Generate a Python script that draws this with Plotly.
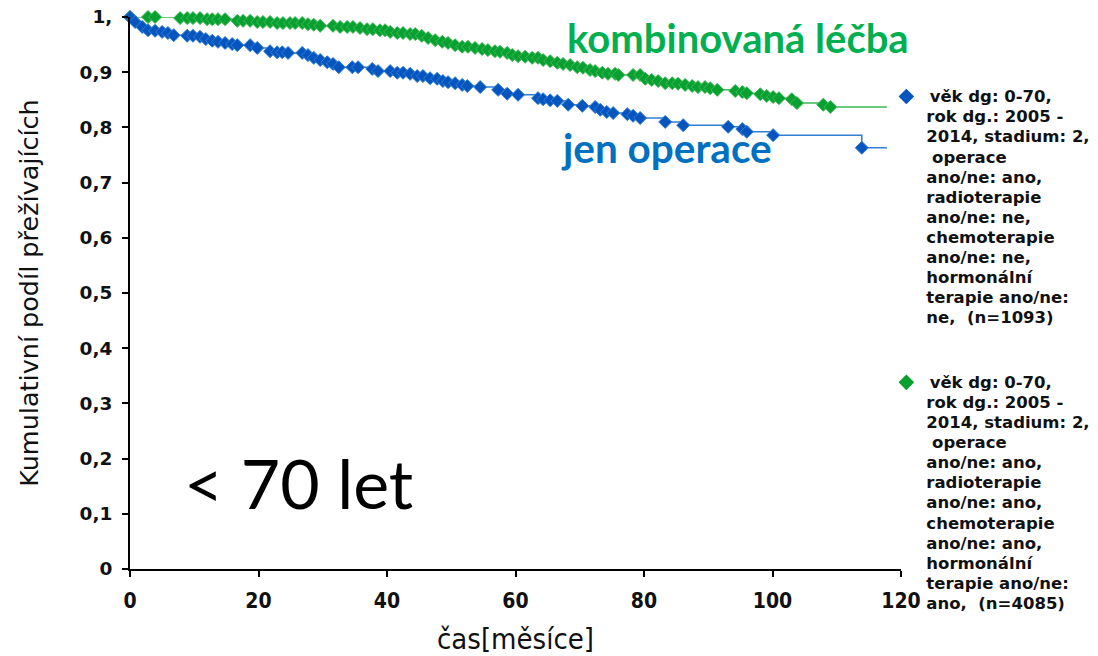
import plotly.graph_objects as go

# ---------------- data ----------------
# jen operace (surgery only), censor marks at survival level
op_time = [0, 0.8, 1.9, 2.8, 3.9, 5.0, 5.9, 6.8, 8.9, 9.8, 10.9, 11.8, 12.8, 13.7,
           14.8, 15.9, 16.7, 18.7, 19.8, 21.8, 22.9, 23.7, 24.6, 26.8, 27.7, 28.6,
           29.6, 30.7, 31.6, 32.5, 34.6, 35.5, 37.7, 38.6, 40.5, 41.6, 42.5, 43.6,
           44.7, 45.6, 46.7, 47.8, 48.7, 49.5, 50.6, 51.7, 52.5, 54.5, 57.3, 58.7,
           60.4, 63.5, 64.3, 65.4, 66.5, 68.2, 70.4, 72.4, 73.2, 74.2, 75.2, 77.4,
           78.3, 79.4, 83.3, 86.1, 93.1, 95.3, 96.0, 100.1, 113.9]
op_surv = [1.0, 0.991, 0.982, 0.976, 0.975, 0.973, 0.971, 0.967, 0.966, 0.966, 0.964,
           0.960, 0.957, 0.955, 0.953, 0.951, 0.949, 0.949, 0.944, 0.938, 0.936, 0.936,
           0.935, 0.935, 0.931, 0.926, 0.922, 0.918, 0.915, 0.909, 0.909, 0.909, 0.906,
           0.902, 0.902, 0.899, 0.899, 0.897, 0.893, 0.893, 0.889, 0.888, 0.884, 0.882,
           0.880, 0.877, 0.875, 0.873, 0.868, 0.861, 0.859, 0.853, 0.851, 0.849, 0.848,
           0.841, 0.839, 0.837, 0.832, 0.828, 0.826, 0.824, 0.821, 0.817, 0.810, 0.804,
           0.801, 0.797, 0.792, 0.786, 0.763]
op_end = 117.8

# kombinovaná léčba (combined treatment)
komb_time = [0, 2.8, 3.9, 7.8, 8.9, 9.8, 10.9, 12.0, 12.8, 13.7, 14.8, 16.7, 17.6,
             18.7, 19.8, 20.7, 21.8, 22.9, 23.8, 24.9, 25.7, 26.8, 27.7, 28.6, 29.6,
             31.6, 32.7, 33.8, 34.7, 35.8, 36.9, 37.8, 38.9, 39.7, 40.5, 41.6, 42.5,
             43.6, 44.4, 45.4, 46.4, 47.5, 48.6, 49.5, 50.6, 51.7, 52.6, 53.7, 54.8,
             55.7, 56.8, 57.6, 58.7, 59.5, 60.4, 61.5, 62.6, 63.5, 64.3, 65.4, 66.5,
             67.4, 68.5, 69.6, 70.5, 71.6, 72.4, 73.5, 74.4, 75.5, 76.0, 78.3, 79.4,
             80.2, 81.2, 82.2, 83.3, 84.4, 85.3, 86.4, 87.5, 88.4, 89.5, 90.3, 91.4,
             94.2, 95.3, 96.0, 98.1, 99.1, 100.1, 101.0, 103.0, 103.8, 107.9, 109.0]
komb_surv = [1.0, 1.0, 1.0, 0.998, 0.998, 0.998, 0.998, 0.996, 0.996, 0.996, 0.996,
             0.993, 0.993, 0.993, 0.991, 0.991, 0.991, 0.989, 0.989, 0.989, 0.989,
             0.989, 0.987, 0.986, 0.984, 0.984, 0.982, 0.982, 0.982, 0.980, 0.978,
             0.978, 0.976, 0.976, 0.973, 0.971, 0.971, 0.969, 0.969, 0.966, 0.962,
             0.958, 0.955, 0.953, 0.949, 0.946, 0.946, 0.944, 0.942, 0.940, 0.938,
             0.937, 0.935, 0.931, 0.929, 0.928, 0.926, 0.926, 0.922, 0.920, 0.917,
             0.915, 0.913, 0.909, 0.908, 0.904, 0.902, 0.899, 0.897, 0.897, 0.895,
             0.895, 0.895, 0.888, 0.886, 0.884, 0.880, 0.880, 0.879, 0.877, 0.875,
             0.873, 0.873, 0.871, 0.868, 0.866, 0.864, 0.862, 0.860, 0.857, 0.855,
             0.853, 0.851, 0.844, 0.841, 0.837]
komb_end = 117.8

y_ticks = [0, 0.1, 0.2, 0.3, 0.4, 0.5, 0.6, 0.7, 0.8, 0.9, 1.0]
y_ticktext = ["0", "0,1", "0,2", "0,3", "0,4", "0,5", "0,6", "0,7", "0,8", "0,9", "1,"]
x_ticks = [0, 20, 40, 60, 80, 100, 120]

NB = "\u00a0"
op_lines = ["\u2009věk dg: 0-70,", "rok dg.: 2005 -", "2014, stadium: 2,", NB + "operace",
            "ano/ne: ano,", "radioterapie", "ano/ne: ne,", "chemoterapie", "ano/ne: ne,",
            "hormonální", "terapie ano/ne:", "ne," + NB + " (n=1093)"]
komb_lines = ["\u2009věk dg: 0-70,", "rok dg.: 2005 -", "2014, stadium: 2,", NB + "operace",
              "ano/ne: ano,", "radioterapie", "ano/ne: ano,", "chemoterapie", "ano/ne: ano,",
              "hormonální", "terapie ano/ne:", "ano," + NB + " (n=4085)"]


def legend_text(lines):
    # glyphs a bit larger than the base size keeps the tight line spacing
    return "<br>".join(f"<span style='font-size:16.5px'>{s}</span>" for s in lines)


BLUE_M, BLUE_L = "#0654BE", "#2F7FD3"
GREEN_M, GREEN_L = "#08A030", "#3DB955"


def km_trace(t, s, t_end, mcol, lcol):
    xs = list(t) + [t_end]
    ys = list(s) + [s[-1]]
    sizes = [10] * len(t) + [0]
    return go.Scatter(
        x=xs, y=ys, mode="lines+markers", line_shape="hv",
        line=dict(color=lcol, width=1.5),
        marker=dict(symbol="diamond", size=sizes, color=mcol, opacity=1),
        cliponaxis=False, showlegend=False, hoverinfo="x+y",
    )


fig = go.Figure()
fig.add_trace(km_trace(komb_time, komb_surv, komb_end, GREEN_M, GREEN_L))
fig.add_trace(km_trace(op_time, op_surv, op_end, BLUE_M, BLUE_L))

# legend-only entries
fig.add_trace(go.Scatter(x=[None], y=[None], mode="markers", name=legend_text(op_lines),
                         marker=dict(symbol="diamond", size=12, color=BLUE_M),
                         legend="legend"))
fig.add_trace(go.Scatter(x=[None], y=[None], mode="markers", name=legend_text(komb_lines),
                         marker=dict(symbol="diamond", size=12, color=GREEN_M),
                         legend="legend2"))

leg_font = dict(family="DejaVu Sans", size=15.4, color="#111111", weight="bold")
fig.update_layout(
    width=1098, height=656,
    margin=dict(l=130, r=197, t=17, b=87, autoexpand=False),
    paper_bgcolor="white", plot_bgcolor="white",
    legend=dict(x=0.981, y=0.886, xanchor="left", yanchor="top", valign="top",
                font=leg_font, bgcolor="rgba(0,0,0,0)", itemwidth=30),
    legend2=dict(x=0.981, y=0.368, xanchor="left", yanchor="top", valign="top",
                 font=leg_font, bgcolor="rgba(0,0,0,0)", itemwidth=30),
)

fig.update_xaxes(
    range=[0, 120], tickvals=x_ticks, showgrid=False, zeroline=False, automargin=False,
    showline=True, linecolor="black", linewidth=2, ticks="outside", ticklen=6,
    tickcolor="black", tickwidth=1.5, ticklabelstandoff=6, ticklabeloverflow="allow",
    tickfont=dict(family="DejaVu Sans Condensed, DejaVu Sans", size=21, color="#111111", weight="bold"),
    title=dict(text="čas[měsíce]", standoff=18,
               font=dict(family="DejaVu Sans Condensed, DejaVu Sans", size=29, color="#111111")),
)
fig.update_yaxes(
    range=[0, 1], tickvals=y_ticks, ticktext=y_ticktext, showgrid=False, zeroline=False,
    automargin=False,
    showline=True, linecolor="black", linewidth=2, ticks="outside", ticklen=6,
    tickcolor="black", tickwidth=1.5, ticklabelstandoff=6, ticklabeloverflow="allow",
    tickfont=dict(family="DejaVu Sans", size=18.5, color="#111111", weight="bold"),
    title=dict(text="Kumulativní podíl přežívajících", standoff=34,
               font=dict(family="DejaVu Sans", size=25.5, color="#111111")),
)

fig.add_annotation(text="<b>kombinovaná léčba</b>", xref="paper", yref="paper",
                   x=0.564, y=0.962, xanchor="left", yanchor="middle", showarrow=False,
                   font=dict(family="Lato", size=40, color="#00B050"))
fig.add_annotation(text="<b>jen operace</b>", xref="paper", yref="paper",
                   x=0.557, y=0.763, xanchor="left", yanchor="middle", showarrow=False,
                   font=dict(family="Lato", size=40.5, color="#0070C0"))
fig.add_annotation(text="< 70 let", xref="paper", yref="paper",
                   x=0.0675, y=0.156, xanchor="left", yanchor="middle", showarrow=False,
                   font=dict(family="Lato", size=68, color="black"))

# drop the browser's default 8px body margin so the figure fills the window exactly
fig.write_html("out.html", config={"displayModeBar": False},
               post_script="document.body.style.margin='0';")
